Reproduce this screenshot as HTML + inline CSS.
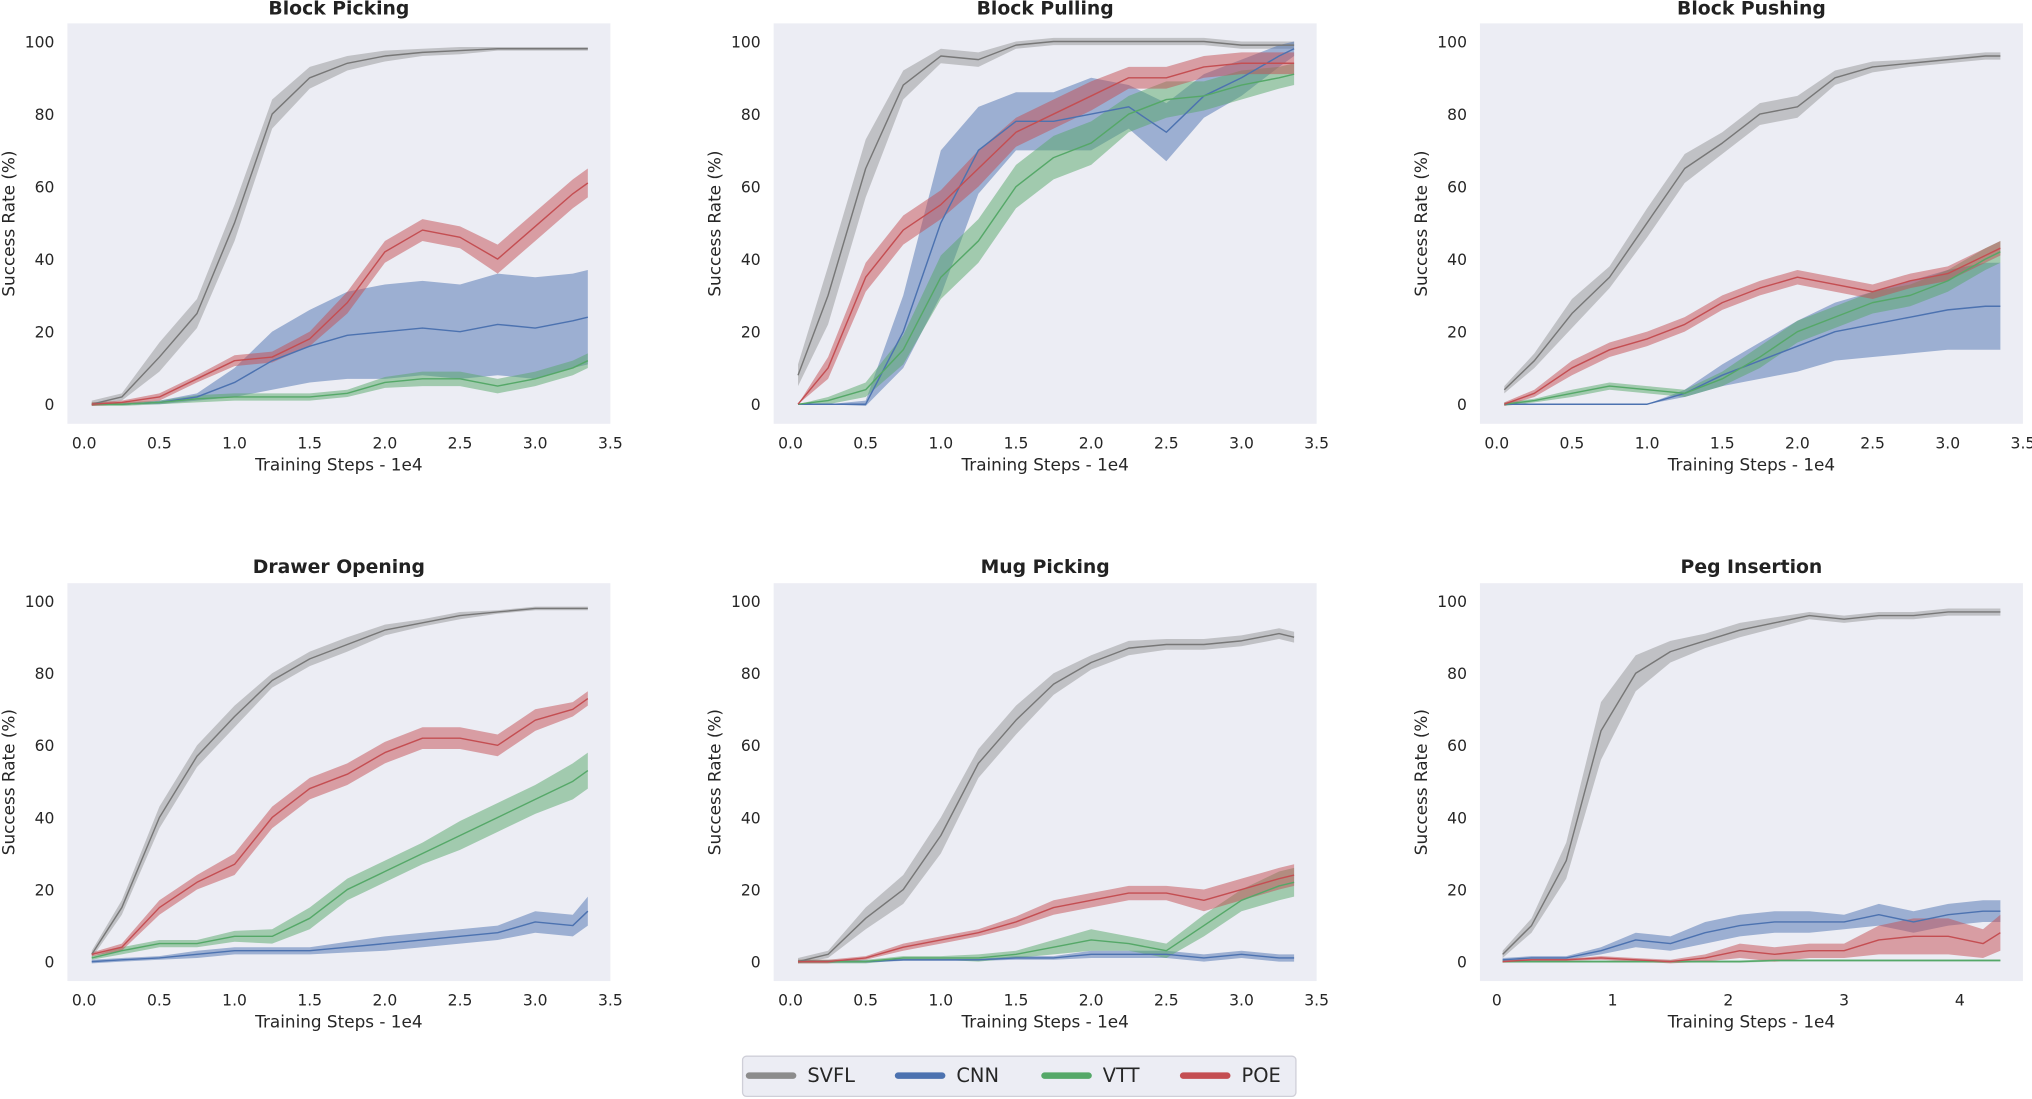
<!DOCTYPE html>
<html><head><meta charset="utf-8"><style>
html,body{margin:0;padding:0;background:#fff;}
svg{display:block;font-family:"DejaVu Sans","Liberation Sans",sans-serif;}
</style></head><body>
<svg id="fig" width="2032" height="1099" viewBox="0 0 1568 848" xmlns="http://www.w3.org/2000/svg"></svg>
<script>
const seriesNames = ["SVFL","CNN","VTT","POE"];
const seriesColors = ["#8c8c8c","#4C72B0","#55A868","#C44E52"];
const panelTitles = ["Block Picking","Block Pulling","Block Pushing","Drawer Opening","Mug Picking","Peg Insertion"];
const xStd = [0.05,0.25,0.5,0.75,1.0,1.25,1.5,1.75,2.0,2.25,2.5,2.75,3.0,3.25,3.35];
const xPeg = [0.05,0.3,0.6,0.9,1.2,1.5,1.8,2.1,2.4,2.7,3.0,3.3,3.6,3.9,4.2,4.35];
const xTicksStd = [0,0.5,1,1.5,2,2.5,3,3.5];
const xTickLabelsStd = ["0.0","0.5","1.0","1.5","2.0","2.5","3.0","3.5"];
const xTicksPeg = [0,1,2,3,4];
const xTickLabelsPeg = ["0","1","2","3","4"];
const yTicks = [0,20,40,60,80,100];

// Block Picking
const bpickMean = [
 [0,2,13,25,50,80,90,94,96,97,97.5,98,98,98,98],
 [0,0,0.5,2,6,12,16,19,20,21,20,22,21,23,24],
 [0,0,0.5,1.5,2,2,2,3,6,7,7,5,7,10,12],
 [0,0.5,2,7,12,13,18,28,42,48,46,40,49,58,61]];
const bpickBand = [
 [1,1,4,4,5,4,3,2,1.5,1,1,0.5,0.5,0.5,0.5],
 [0,0,0.5,1,4,8,10,12,13,13,13,14,14,13,13],
 [0.5,0.5,0.5,1,1,1,1,1,1.5,2,2,2,2,2,2],
 [0.5,0.5,1,1,1.5,1.5,2,3,3,3,3,4,4,4,4]];
// Block Pulling
const bpullMean = [
 [8,30,65,88,96,95,99,100,100,100,100,100,99,99,99],
 [0,0,0,20,50,70,78,78,80,82,75,85,90,96,98],
 [0,1,4,15,35,45,60,68,72,80,84,85,88,90,91],
 [0,10,35,48,55,65,75,80,85,90,90,93,94,94,94]];
const bpullBand = [
 [3,8,8,4,2,2,1,1,1,1,1,1,1,1,1],
 [0,0,1,10,20,12,8,8,10,6,8,6,5,3,2],
 [0,1,2,4,6,6,6,6,6,5,5,4,4,3,3],
 [0,3,4,4,4,5,4,4,4,3,3,3,3,3,3]];
// Block Pushing
const bpushMean = [
 [4,12,25,35,50,65,72,80,82,90,93,94,95,96,96],
 [0,0,0,0,0,3,8,12,16,20,22,24,26,27,27],
 [0,1,3,5,4,3,7,13,20,24,28,30,34,40,42],
 [0,3,10,15,18,22,28,32,35,33,31,34,36,41,43]];
const bpushBand = [
 [1,2,4,3,4,4,3,3,3,2,1.5,1,1,1,1],
 [0,0,0,0,0,1,3,5,7,8,9,10,11,12,12],
 [0.5,0.5,1,1,1,1,2,3,3,3,3,3,3,3,3],
 [0.5,1,2,2,2,2,2,2,2,2,2,2,2,2,2]];
// Drawer Opening
const drawerMean = [
 [2,15,40,57,68,78,84,88,92,94,96,97,98,98,98],
 [0,0.5,1,2,3,3,3,4,5,6,7,8,11,10,14],
 [1,3,5,5,7,7,12,20,25,30,35,40,45,50,53],
 [2,4,15,22,27,40,48,52,58,62,62,60,67,70,73]];
const drawerBand = [
 [1,2,3,3,3,2,2,2,1.5,1,1,0.5,0.5,0.5,0.5],
 [0.5,0.5,0.5,1,1,1,1,1.5,2,2,2,2,3,3,4],
 [0.5,1,1,1,1.5,2,3,3,3,3,4,4,4,5,5],
 [0.5,1,2,2,3,3,3,3,3,3,3,3,3,2,2]];
// Mug Picking
const mugMean = [
 [0,2,12,20,35,55,67,77,83,87,88,88,89,91,90],
 [0,0,0,0.5,0.5,0.5,1,1,2,2,2,1,2,1,1],
 [0,0,0,1,1,1,2,4,6,5,3,10,17,21,22],
 [0,0,1,4,6,8,11,15,17,19,19,17,20,23,24]];
const mugBand = [
 [1,1,3,4,5,4,4,3,2,2,1.5,1.5,1.5,1.5,1.5],
 [0.3,0.3,0.3,0.3,0.3,0.3,0.5,0.5,1,1,1,1,1,1,1],
 [0.5,0.5,0.5,0.5,0.5,1,1,2,3,2,2,3,3,4,4],
 [0.5,0.5,0.5,1,1,1,1.5,2,2,2,2,3,3,3,3]];
// Peg Insertion
const pegMean = [
 [2,10,28,64,80,86,89,92,94,96,95,96,96,97,97,97],
 [0.5,1,1,3,6,5,8,10,11,11,11,13,11,13,14,14],
 [0,0,0,0,0,0,0,0,0.3,0.3,0.3,0.3,0.3,0.3,0.3,0.3],
 [0,0.5,0.5,1,0.5,0,1,3,2,3,3,6,7,7,5,8]];
const pegBand = [
 [1,2,5,8,5,3,2,2,1.5,1,1,1,1,1,1,1],
 [0.5,0.5,0.5,1,2,2,3,3,3,3,2,3,3,3,3,3],
 [0.3,0.3,0.3,0.3,0.3,0.3,0.3,0.3,0.3,0.3,0.3,0.3,0.3,0.3,0.3,0.3],
 [0.3,0.3,0.3,0.5,0.5,0.5,1,2,2,2,2,4,5,5,4,5]];

const panelMeans = [bpickMean,bpullMean,bpushMean,drawerMean,mugMean,pegMean];
const panelBands = [bpickBand,bpullBand,bpushBand,drawerBand,mugBand,pegBand];

const NS="http://www.w3.org/2000/svg";
const svg=document.getElementById('fig');
function mk(tag,attrs,parent){const e=document.createElementNS(NS,tag);for(const k in attrs)e.setAttribute(k,attrs[k]);(parent||svg).appendChild(e);return e;}

const colLeft=[52,597,1142], rowTop=[18,450], bgW=419, bgH=[309,307];
for(let p=0;p<6;p++){
  const c=p%3,r=Math.floor(p/3);
  const L=colLeft[c],T=rowTop[r],W=bgW,H=bgH[r];
  const isPeg=(p===5);
  const xlo=isPeg?-0.146:-0.112, xhi=isPeg?4.545:3.5;
  const ylo=-5.4, yhi=105;
  const X=v=>L+(v-xlo)/(xhi-xlo)*W;
  const Y=v=>T+H-(v-ylo)/(yhi-ylo)*H;
  const g=mk('g',{});
  
  
  const bg=mk('rect',{x:L,y:T,width:W,height:H,fill:'#ECEDF4'},g);
  
  
  const title=mk('text',{x:L+W/2,y:r===0?11:442,'text-anchor':'middle','font-size':14.5,'font-weight':'bold',fill:'#222'},g);
  title.textContent=panelTitles[p];
  
  
  yTicks.forEach(t=>{
    const tl=mk('text',{x:L-10,y:Y(t)+4.5,'text-anchor':'end','font-size':12,fill:'#262626'},g);
    tl.textContent=String(t);
    
    
  });
  const xt=isPeg?xTicksPeg:xTicksStd, xl=isPeg?xTickLabelsPeg:xTickLabelsStd;
  xt.forEach((t,i)=>{
    const tl=mk('text',{x:X(t),y:T+H+19,'text-anchor':'middle','font-size':12,fill:'#262626'},g);
    tl.textContent=xl[i];
    
    
  });
  const xlab=mk('text',{x:L+W/2,y:T+H+36,'text-anchor':'middle','font-size':13,fill:'#262626'},g);
  xlab.textContent='Training Steps - 1e4';
  
  
  const ylab=mk('text',{x:0,y:0,'text-anchor':'middle','font-size':13,fill:'#262626',transform:`translate(${L-41},${T+H/2}) rotate(-90)`},g);
  ylab.textContent='Success Rate (%)';
  
  
  const xs=isPeg?xPeg:xStd;
  for(let s=0;s<4;s++){
    const m=panelMeans[p][s],b=panelBands[p][s];
    let up=xs.map((x,i)=>`${X(x).toFixed(1)},${Y(m[i]+b[i]).toFixed(1)}`);
    let dn=xs.map((x,i)=>`${X(x).toFixed(1)},${Y(Math.max(m[i]-b[i],-0.5)).toFixed(1)}`).reverse();
    const band=mk('polygon',{points:up.concat(dn).join(' '),fill:seriesColors[s],'fill-opacity':s===0?0.45:0.5},g);
    
    
  }
  for(let s=0;s<4;s++){
    const m=panelMeans[p][s];
    const line=mk('polyline',{points:xs.map((x,i)=>`${X(x).toFixed(1)},${Y(m[i]).toFixed(1)}`).join(' '),fill:'none',stroke:s===0?'#777':seriesColors[s],'stroke-width':1.1,'stroke-linejoin':'round'},g);
    
    
  }
}
const lg=mk('g',{});


const lbox=mk('rect',{x:573,y:815,width:427,height:31,fill:'#ECEDF4',stroke:'#cfcfd8','stroke-width':1,rx:3},lg);


const lx=[578,693,806,913];
for(let s=0;s<4;s++){
  const ln=mk('line',{x1:lx[s],y1:830,x2:lx[s]+34,y2:830,stroke:seriesColors[s],'stroke-width':5,'stroke-linecap':'round'},lg);
  
  
  const t=mk('text',{x:lx[s]+45,y:835,'font-size':15,fill:'#262626'},lg);
  t.textContent=seriesNames[s];
  
  
}
</script>
</body></html>
